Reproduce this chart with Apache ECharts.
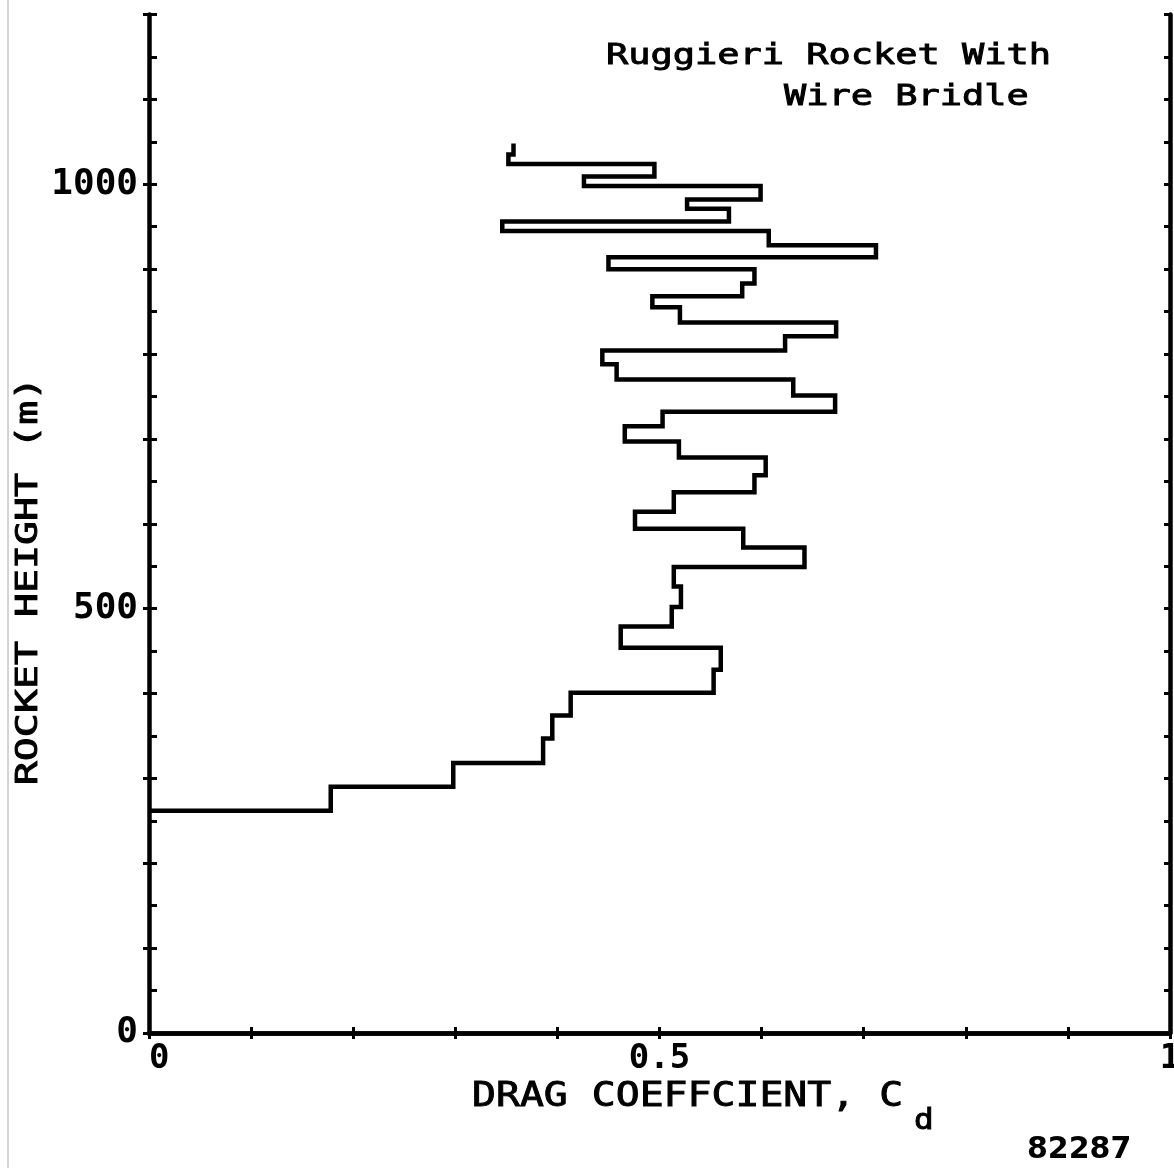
<!DOCTYPE html>
<html>
<head>
<meta charset="utf-8">
<script src="https://cdn.jsdelivr.net/npm/echarts@6/dist/echarts.min.js"></script>
<style>
  html, body { margin: 0; padding: 0; background: #fff; }
  #chart { width: 1174px; height: 1168px; }
</style>
</head>
<body>
<div id="chart"></div>
<script>
// Layer boundaries (rocket height, m), bottom to top
const heightBounds = [262, 290, 318, 347, 374, 401, 428, 454, 479, 502, 526, 549, 572, 594,
  614, 637, 657, 678, 697, 715, 732, 751, 770, 788, 804, 821, 837, 855, 868, 883, 900, 914,
  928, 945, 956, 971, 982, 998, 1009, 1024, 1035, 1048];
// Drag coefficient within each layer (between consecutive boundaries)
const dragCoef = [0.178, 0.298, 0.386, 0.395, 0.413, 0.553, 0.560, 0.462, 0.512, 0.521,
  0.514, 0.642, 0.582, 0.476, 0.514, 0.593, 0.604, 0.519, 0.466, 0.503, 0.672, 0.631,
  0.458, 0.444, 0.623, 0.673, 0.520, 0.493, 0.581, 0.593, 0.450, 0.712, 0.607, 0.346,
  0.568, 0.527, 0.599, 0.426, 0.495, 0.352, 0.357];
const xTickLabels = ['0', '0.5', '1'];
const yTickLabels = ['0', '500', '1000'];

// Step profile: horizontal run at each boundary, vertical run through each layer
const profile = [[0, heightBounds[0]]];
for (let i = 0; i < dragCoef.length; i++) {
  profile.push([dragCoef[i], heightBounds[i]]);
  profile.push([dragCoef[i], heightBounds[i + 1]]);
}

const MONO = 'DejaVu Sans Mono';
const INK = '#000';
const axisLine = { show: true, lineStyle: { color: INK, width: 4.5 } };
const tickStyle = { color: INK, width: 3 };
// medium-weight plotter lettering: regular glyphs with a thin outline
const penText = { fontFamily: MONO, fill: INK, stroke: INK, lineWidth: 0.9 };

const chart = echarts.init(document.getElementById('chart'));
chart.setOption({
  animation: false,
  backgroundColor: '#fff',
  grid: { left: 149, right: 4, top: 14.5, bottom: 135, outerBoundsMode: 'none', containLabel: false },
  xAxis: [
    {
      type: 'value', position: 'bottom', min: 0, max: 1, interval: 0.5,
      axisLine: axisLine,
      axisTick: { show: true, inside: true, length: 6, lineStyle: tickStyle },
      minorTick: { show: true, splitNumber: 5, length: 6, lineStyle: tickStyle },
      splitLine: { show: false },
      axisLabel: {
        margin: 9, color: INK, fontFamily: MONO, fontWeight: 'bold', fontSize: 34,
        alignMinLabel: 'left',
        formatter: function (v) {
          const idx = [0, 0.5, 1].indexOf(Math.round(v * 10) / 10);
          return idx >= 0 ? xTickLabels[idx] : '';
        }
      }
    },
    {
      type: 'value', position: 'top', min: 0, max: 1, interval: 0.1,
      axisLine: axisLine,
      axisTick: { show: true, inside: true, length: 6, lineStyle: tickStyle },
      axisLabel: { show: false },
      splitLine: { show: false }
    }
  ],
  yAxis: [
    {
      type: 'value', position: 'left', min: 0, max: 1200, interval: 100,
      axisLine: axisLine,
      axisTick: { show: true, inside: false, length: 6, lineStyle: tickStyle },
      splitLine: { show: false },
      axisLabel: {
        margin: 11, color: INK, fontFamily: MONO, fontWeight: 'bold', fontSize: 36,
        padding: [0, 0, 16, 0],
        formatter: function (v) {
          const idx = [0, 500, 1000].indexOf(v);
          return idx >= 0 ? yTickLabels[idx] : '';
        }
      }
    },
    {
      type: 'value', position: 'left', min: 0, max: 1200, interval: 50,
      axisLine: { show: false },
      axisTick: { show: true, inside: true, length: 8, lineStyle: tickStyle },
      axisLabel: { show: false },
      splitLine: { show: false }
    },
    {
      type: 'value', position: 'right', min: 0, max: 1200, interval: 50,
      axisLine: axisLine,
      axisTick: { show: true, inside: true, length: 6, lineStyle: tickStyle },
      axisLabel: { show: false },
      splitLine: { show: false }
    }
  ],
  series: [
    {
      type: 'line', xAxisIndex: 0, yAxisIndex: 0,
      data: profile, symbol: 'none', silent: true,
      lineStyle: { color: INK, width: 4.5, join: 'miter' }
    }
  ],
  graphic: [
    { type: 'line', shape: { x1: 8, y1: 0, x2: 8, y2: 1168 }, style: { stroke: '#c4c4c4', lineWidth: 1.5 } },
    { type: 'text', x: 606, y: 57, scaleX: 1.32,
      style: Object.assign({ text: 'Ruggieri Rocket With', fontSize: 28, align: 'left', verticalAlign: 'middle' }, penText) },
    { type: 'text', x: 784, y: 98, scaleX: 1.32,
      style: Object.assign({ text: 'Wire Bridle', fontSize: 28, align: 'left', verticalAlign: 'middle' }, penText) },
    { type: 'text', x: 29, y: 581, rotation: Math.PI / 2, scaleX: 1.33,
      style: Object.assign({ text: 'ROCKET HEIGHT (m)', fontSize: 30, align: 'center', verticalAlign: 'middle' }, penText) },
    { type: 'text', x: 472, y: 1097, scaleX: 1.17,
      style: Object.assign({ text: 'DRAG COEFFCIENT, C', fontSize: 34, align: 'left', verticalAlign: 'middle' }, penText) },
    { type: 'text', x: 914, y: 1122, scaleX: 1.17,
      style: Object.assign({ text: 'd', fontSize: 28, align: 'left', verticalAlign: 'middle' }, penText) },
    { type: 'text', x: 1027, y: 1150,
      style: { text: '82287', fontFamily: 'DejaVu Sans', fontWeight: 'bold', fontSize: 30, fill: INK, align: 'left', verticalAlign: 'middle' } }
  ]
});
</script>
</body>
</html>
